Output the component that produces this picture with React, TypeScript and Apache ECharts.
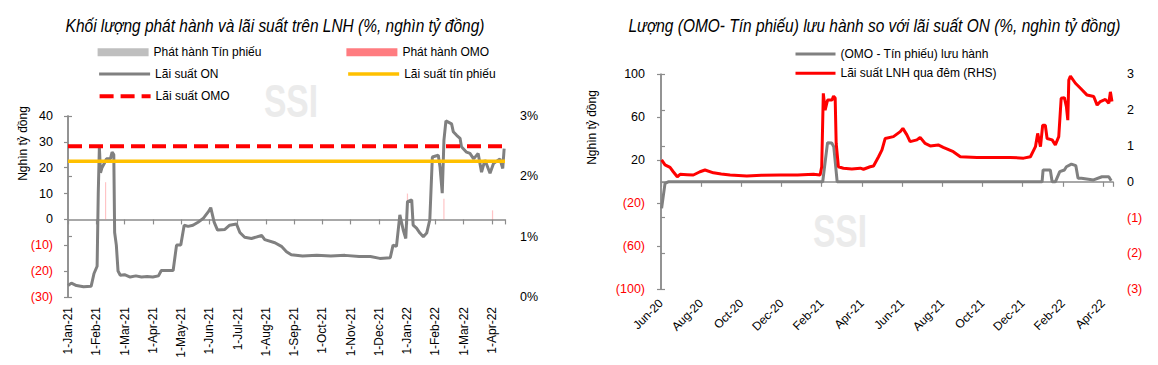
import React, { useEffect, useRef } from 'react';
import * as echarts from 'echarts';

const FONT = "'Liberation Sans', Arial, Helvetica, sans-serif";

// ---------- Left chart ----------
// x = months since 1-Jan-21
const leftMonthLabels = [
  '1-Jan-21', '1-Feb-21', '1-Mar-21', '1-Apr-21', '1-May-21', '1-Jun-21', '1-Jul-21', '1-Aug-21',
  '1-Sep-21', '1-Oct-21', '1-Nov-21', '1-Dec-21', '1-Jan-22', '1-Feb-22', '1-Mar-22', '1-Apr-22',
];
const LEFT_X_END = 15.46;

// Lãi suất ON (%), right axis
const onRate: [number, number][] = [
  [0, 0.19], [0.12, 0.23], [0.3, 0.19], [0.55, 0.17], [0.82, 0.18], [0.92, 0.39], [1.03, 0.51],
  [1.07, 1.71], [1.11, 2.49], [1.15, 2.06], [1.2, 2.14], [1.3, 2.23], [1.36, 2.29], [1.5, 2.29],
  [1.56, 2.4], [1.62, 2.36], [1.65, 1.07], [1.71, 0.86], [1.77, 0.43], [1.85, 0.36], [2.0, 0.37],
  [2.2, 0.33], [2.4, 0.35], [2.6, 0.33], [2.8, 0.34], [3.0, 0.33], [3.2, 0.35], [3.3, 0.44],
  [3.72, 0.44], [3.84, 0.86], [3.99, 0.86], [4.11, 1.19], [4.25, 1.17], [4.42, 1.19], [4.6, 1.24],
  [4.78, 1.3], [4.96, 1.41], [5.05, 1.48], [5.17, 1.24], [5.29, 1.11], [5.55, 1.12], [5.72, 1.19],
  [5.96, 1.21], [6.08, 1.07], [6.25, 0.99], [6.49, 0.97], [6.85, 1.02], [6.96, 0.95], [7.32, 0.9],
  [7.55, 0.84], [7.73, 0.75], [7.9, 0.7], [8.3, 0.68], [8.8, 0.69], [9.3, 0.68], [9.8, 0.69],
  [10.3, 0.67], [10.7, 0.67], [11.03, 0.64], [11.4, 0.65], [11.5, 0.86], [11.62, 0.84],
  [11.74, 1.36], [11.86, 1.11], [11.95, 0.97], [12.01, 1.58], [12.16, 1.61], [12.21, 1.19],
  [12.33, 1.14], [12.45, 1.06], [12.57, 1.0], [12.69, 1.06], [12.8, 1.28], [12.89, 2.32],
  [13.1, 2.35], [13.16, 2.16], [13.24, 1.72], [13.3, 2.6], [13.37, 2.92], [13.57, 2.87],
  [13.63, 2.74], [13.75, 2.68], [13.87, 2.63], [13.92, 2.49], [14.1, 2.4], [14.22, 2.38],
  [14.35, 2.29], [14.51, 2.38], [14.63, 2.07], [14.75, 2.27], [14.93, 2.05], [15.05, 2.21],
  [15.28, 2.29], [15.38, 2.13], [15.43, 2.46],
];
const omoRate: [number, number][] = [[0, 2.5], [LEFT_X_END, 2.5]];
const billRate: [number, number][] = [[0, 2.25], [LEFT_X_END, 2.25]];
// issuance (nghìn tỷ đồng), left axis
const omoIssue: [number, number][] = [[1.3, 14.4], [11.98, 10], [13.27, 8], [14.99, 3.5]];
const billIssue: [number, number][] = [];

// ---------- Right chart ----------
// x = months since Jun-20
const rightMonthLabels = [
  'Jun-20', 'Aug-20', 'Oct-20', 'Dec-20', 'Feb-21', 'Apr-21',
  'Jun-21', 'Aug-21', 'Oct-21', 'Dec-21', 'Feb-22', 'Apr-22',
];
const RIGHT_X_END = 22.5;

const netOutstanding: [number, number][] = [
  [0.03, -24.7], [0.2, -1.5], [0.36, 0], [8.05, 0], [8.29, 36.4], [8.5, 36], [8.6, 32.7],
  [8.77, 0], [18.97, 0], [19.02, 11], [19.38, 11], [19.47, 0], [19.63, 0], [19.85, 9.4],
  [20.08, 11], [20.18, 14], [20.43, 16.5], [20.65, 15], [20.76, 3.2], [20.93, 3.2],
  [21.53, 1.7], [21.95, 4.7], [22.29, 4.7], [22.41, 1],
];
const overnightRate: [number, number][] = [
  [0.03, 0.61], [0.2, 0.47], [0.45, 0.4], [0.61, 0.28], [0.81, 0.14], [0.95, 0.21], [1.3, 0.2],
  [1.61, 0.19], [1.94, 0.28], [2.19, 0.33], [2.61, 0.25], [3.0, 0.22], [3.44, 0.19], [4.27, 0.16],
  [5.0, 0.18], [5.93, 0.19], [6.8, 0.19], [7.59, 0.21], [7.92, 0.19], [8.0, 0.42], [8.08, 2.47],
  [8.17, 2.0], [8.29, 2.28], [8.51, 2.28], [8.59, 2.39], [8.67, 2.34], [8.72, 1.07], [8.83, 0.42],
  [9.08, 0.38], [9.5, 0.36], [9.92, 0.38], [10.08, 0.35], [10.41, 0.42], [10.58, 0.44],
  [10.83, 0.7], [11.0, 0.89], [11.16, 1.21], [11.57, 1.26], [11.91, 1.4], [12.04, 1.49],
  [12.24, 1.31], [12.4, 1.12], [12.74, 1.17], [12.9, 1.24], [13.15, 1.07], [13.4, 1.0],
  [13.8, 1.03], [14.05, 0.96], [14.55, 0.84], [14.9, 0.7], [15.73, 0.68], [16.56, 0.68],
  [17.39, 0.68], [18.05, 0.66], [18.39, 0.7], [18.64, 0.98], [18.75, 1.35], [18.89, 0.98],
  [19.0, 1.58], [19.13, 1.58], [19.22, 1.21], [19.47, 1.17], [19.63, 1.03], [19.8, 1.26],
  [19.92, 2.33], [20.08, 2.35], [20.18, 2.1], [20.25, 1.72], [20.3, 2.84], [20.38, 2.95],
  [20.63, 2.75], [20.88, 2.61], [21.21, 2.42], [21.54, 2.38], [21.71, 2.14], [21.87, 2.24],
  [22.12, 2.3], [22.29, 2.19], [22.37, 2.51], [22.45, 2.24],
];

const AXIS_GRAY = '#8C8C8C';
const negFmt = (v: number) => (v < 0 ? `(${Math.abs(v)})` : `${v}`);
const negColor = (v: any) => (Number(v) < 0 ? '#FF0000' : '#000000');

const yAxisBase = (gridIndex: number, position: 'left' | 'right') => ({
  gridIndex,
  position,
  type: 'value',
  splitLine: { show: false },
  axisLine: { show: true, lineStyle: { color: AXIS_GRAY, width: 1.5 } },
  axisTick: { show: true, inside: false, length: 4, lineStyle: { color: AXIS_GRAY, width: 1.2 } },
});

const labelStyle = { fontSize: 12, fontFamily: FONT };
const yLabelStyle = { fontSize: 12.5, fontFamily: FONT };

const legendItem = (name: string, left: number, centerY: number, itemWidth: number, itemHeight: number, extra: any = {}) => ({
  show: true,
  data: [name],
  left,
  top: centerY - 7,
  orient: 'horizontal',
  padding: 0,
  itemWidth,
  itemHeight,
  itemGap: 0,
  selectedMode: false,
  textStyle: { fontSize: 12, fontFamily: FONT, color: '#000' },
  ...extra,
});

const lineLegend = (name: string, left: number, centerY: number, itemWidth: number, width: number, color: string, type: any = 'solid') =>
  legendItem(name, left, centerY, itemWidth, 4, {
    itemStyle: { opacity: 0 },
    lineStyle: { width, color, type },
  });

export default function App() {
  const ref = useRef<HTMLDivElement>(null);

  useEffect(() => {
    if (!ref.current) return;
    const chart = echarts.init(ref.current, undefined, { renderer: 'svg' });

    const option: any = {
      animation: false,
      backgroundColor: '#ffffff',
      grid: [
        { left: 68, top: 116, width: 437, height: 181 },
        { left: 661, top: 74.3, width: 452, height: 215 },
      ],
      xAxis: [
        {
          gridIndex: 0, type: 'value', position: 'bottom', min: 0, max: LEFT_X_END, interval: 1,
          axisLine: { show: false, onZero: false }, axisTick: { show: false }, splitLine: { show: false },
          axisLabel: {
            ...labelStyle, color: '#000', rotate: 90, margin: 10,
            formatter: (v: number) => (Number.isInteger(v) ? leftMonthLabels[v] ?? '' : ''),
          },
        },
        {
          gridIndex: 0, type: 'value', position: 'bottom', min: 0, max: LEFT_X_END, interval: 1,
          axisLine: { show: true, onZero: true, onZeroAxisIndex: 0, lineStyle: { color: AXIS_GRAY, width: 1.5 } },
          axisTick: { show: true, inside: false, length: 5, lineStyle: { color: AXIS_GRAY, width: 1.2 } },
          axisLabel: { show: false }, splitLine: { show: false },
        },
        {
          gridIndex: 1, type: 'value', position: 'bottom', min: 0, max: RIGHT_X_END, interval: 2,
          axisLine: { show: false, onZero: false }, axisTick: { show: false }, splitLine: { show: false },
          axisLabel: {
            ...labelStyle, color: '#000', rotate: 45, margin: 12,
            formatter: (v: number) => (Number.isInteger(v) && v % 2 === 0 ? rightMonthLabels[v / 2] ?? '' : ''),
          },
        },
        {
          gridIndex: 1, type: 'value', position: 'bottom', min: 0, max: RIGHT_X_END, interval: 2,
          axisLine: { show: true, onZero: true, onZeroAxisIndex: 2, lineStyle: { color: AXIS_GRAY, width: 1.5 } },
          axisTick: { show: true, inside: false, length: 5, lineStyle: { color: AXIS_GRAY, width: 1.2 } },
          axisLabel: { show: false }, splitLine: { show: false },
        },
      ],
      yAxis: [
        {
          ...yAxisBase(0, 'left'), min: -30, max: 40, interval: 10,
          axisLabel: { ...yLabelStyle, margin: 15, formatter: negFmt, color: negColor },
        },
        {
          ...yAxisBase(0, 'right'), min: 0, max: 3, interval: 1,
          axisLabel: { ...yLabelStyle, margin: 15, color: '#000', formatter: (v: number) => `${v}%` },
        },
        {
          ...yAxisBase(1, 'left'), min: -100, max: 100, interval: 40,
          axisLabel: { ...yLabelStyle, margin: 16, formatter: negFmt, color: negColor },
        },
        {
          ...yAxisBase(1, 'right'), min: -3, max: 3, interval: 1,
          axisLabel: { ...yLabelStyle, margin: 14, formatter: negFmt, color: negColor },
        },
      ],
      legend: [
        legendItem('Phát hành Tín phiếu', 97.6, 53.3, 51, 8, { icon: 'rect' }),
        legendItem('Phát hành OMO', 346.4, 53.3, 51, 8, { icon: 'rect', itemStyle: { opacity: 1 } }),
        lineLegend('Lãi suất ON', 97.6, 75, 51, 3, '#808080'),
        lineLegend('Lãi suất tín phiếu', 346.4, 75, 51, 3.5, '#FFC000'),
        lineLegend('Lãi suất OMO', 97.6, 97.3, 51, 4, '#FF0000', [14, 7]),
        lineLegend('(OMO - Tín phiếu) lưu hành', 794, 55, 40, 3, '#808080'),
        lineLegend('Lãi suất LNH qua đêm (RHS)', 794, 74.3, 40, 3, '#FF0000'),
      ],
      graphic: [
        {
          type: 'text', x: 291, y: 101.5, z: -10, scaleX: 0.73,
          style: { text: 'SSI', fontSize: 46, fontWeight: 'bold', fontFamily: FONT, fill: '#EBEBEB', align: 'center', verticalAlign: 'middle' },
        },
        {
          type: 'text', x: 840, y: 231.5, z: -10, scaleX: 0.73,
          style: { text: 'SSI', fontSize: 46, fontWeight: 'bold', fontFamily: FONT, fill: '#EBEBEB', align: 'center', verticalAlign: 'middle' },
        },
        {
          type: 'text', x: 275, y: 26, scaleX: 0.86,
          style: { text: 'Khối lượng phát hành và lãi suất trên LNH (%, nghìn tỷ đồng)', fontSize: 18, fontStyle: 'italic', fontFamily: FONT, fill: '#000', align: 'center', verticalAlign: 'middle' },
        },
        {
          type: 'text', x: 874.5, y: 26.5, scaleX: 0.86,
          style: { text: 'Lượng (OMO- Tín phiếu) lưu hành so với lãi suất ON (%, nghìn tỷ đồng)', fontSize: 18, fontStyle: 'italic', fontFamily: FONT, fill: '#000', align: 'center', verticalAlign: 'middle' },
        },
        {
          type: 'text', x: 23, y: 143.5, rotation: Math.PI / 2,
          style: { text: 'Nghìn tỷ đồng', fontSize: 12, fontFamily: FONT, fill: '#000', align: 'center', verticalAlign: 'middle' },
        },
        {
          type: 'text', x: 592, y: 127.5, rotation: Math.PI / 2,
          style: { text: 'Nghìn tỷ đồng', fontSize: 12, fontFamily: FONT, fill: '#000', align: 'center', verticalAlign: 'middle' },
        },
      ],
      series: [
        {
          name: 'Phát hành Tín phiếu', type: 'bar', xAxisIndex: 0, yAxisIndex: 0,
          data: billIssue, barWidth: 1.5, itemStyle: { color: '#BFBFBF' },
        },
        {
          name: 'Phát hành OMO', type: 'bar', xAxisIndex: 0, yAxisIndex: 0,
          data: omoIssue, barWidth: 1.2, itemStyle: { color: '#FF7C80', opacity: 0.45 },
        },
        {
          name: 'Lãi suất ON', type: 'line', xAxisIndex: 0, yAxisIndex: 1, data: onRate,
          symbol: 'none', lineStyle: { color: '#808080', width: 3 }, itemStyle: { color: '#808080' },
        },
        {
          name: 'Lãi suất tín phiếu', type: 'line', xAxisIndex: 0, yAxisIndex: 1, data: billRate,
          symbol: 'none', lineStyle: { color: '#FFC000', width: 3.5 }, itemStyle: { color: '#FFC000' },
        },
        {
          name: 'Lãi suất OMO', type: 'line', xAxisIndex: 0, yAxisIndex: 1, data: omoRate,
          symbol: 'none', lineStyle: { color: '#FF0000', width: 4, type: [14, 7] }, itemStyle: { color: '#FF0000' },
        },
        {
          name: '(OMO - Tín phiếu) lưu hành', type: 'line', xAxisIndex: 2, yAxisIndex: 2, data: netOutstanding,
          symbol: 'none', lineStyle: { color: '#808080', width: 3 }, itemStyle: { color: '#808080' },
        },
        {
          name: 'Lãi suất LNH qua đêm (RHS)', type: 'line', xAxisIndex: 2, yAxisIndex: 3, data: overnightRate,
          symbol: 'none', lineStyle: { color: '#FF0000', width: 3 }, itemStyle: { color: '#FF0000' },
        },
      ],
    };

    chart.setOption(option);
    return () => chart.dispose();
  }, []);

  return (
    <div
      ref={ref}
      style={{ position: 'fixed', left: 0, top: 0, width: 1158, height: 365, background: '#fff' }}
    />
  );
}
